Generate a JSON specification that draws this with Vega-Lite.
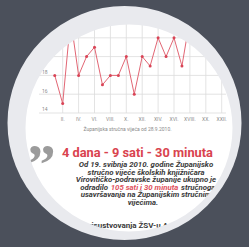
{
  "$schema": "https://vega.github.io/schema/vega-lite/v6.json",
  "width": 249,
  "height": 247,
  "padding": 0,
  "autosize": {"type": "none"},
  "background": "#ffffff",
  "config": {"view": {"stroke": null}, "font": "Roboto"},
  "datasets": {
    "series": [
      {"m": 1, "v": 18}, {"m": 2, "v": 15}, {"m": 3, "v": 24}, {"m": 4, "v": 18},
      {"m": 5, "v": 20}, {"m": 6, "v": 21}, {"m": 7, "v": 17}, {"m": 8, "v": 18},
      {"m": 9, "v": 18}, {"m": 10, "v": 20}, {"m": 11, "v": 16}, {"m": 12, "v": 20},
      {"m": 13, "v": 19}, {"m": 14, "v": 22}, {"m": 15, "v": 20}, {"m": 16, "v": 22},
      {"m": 17, "v": 19}, {"m": 18, "v": 24}
    ],
    "xticks": [
      {"m": 2, "label": "II."}, {"m": 4, "label": "IV."}, {"m": 6, "label": "VI."},
      {"m": 8, "label": "VIII."}, {"m": 10, "label": "X."}, {"m": 12, "label": "XII."},
      {"m": 14, "label": "XIV."}, {"m": 16, "label": "XVI."}, {"m": 18, "label": "XVIII."},
      {"m": 20, "label": "XX."}, {"m": 22, "label": "XXII."}
    ],
    "yticks": [
      {"v": 14, "label": "14"}, {"v": 16, "label": "16"}, {"v": 18, "label": "18"},
      {"v": 20, "label": "20"}, {"v": 22, "label": "22"}, {"v": 24, "label": "24"}
    ]
  },
  "layer": [
    {
      "data": {"name": "xticks"},
      "mark": {"type": "rule", "color": "#dcdcdc", "strokeWidth": 0.8},
      "encoding": {
        "x": {"field": "m", "type": "quantitative", "axis": null, "scale": {"domain": [-5.887, 25.434], "nice": false, "zero": false}},
        "y": {"datum": 14, "type": "quantitative", "axis": null, "scale": {"domain": [-0.255, 26.021], "nice": false, "zero": false}},
        "y2": {"datum": 25}
      }
    },
    {
      "data": {"name": "yticks"},
      "mark": {"type": "rule", "color": "#dcdcdc", "strokeWidth": 0.8},
      "encoding": {
        "y": {"field": "v", "type": "quantitative", "axis": null, "scale": {"domain": [-0.255, 26.021], "nice": false, "zero": false}},
        "x": {"datum": -0.98, "type": "quantitative", "axis": null, "scale": {"domain": [-5.887, 25.434], "nice": false, "zero": false}},
        "x2": {"datum": 22.54}
      }
    },
    {
      "data": {"name": "series"},
      "mark": {"type": "line", "color": "#e26674", "strokeWidth": 1},
      "encoding": {
        "x": {"field": "m", "type": "quantitative", "axis": null, "scale": {"domain": [-5.887, 25.434], "nice": false, "zero": false}},
        "y": {"field": "v", "type": "quantitative", "axis": null, "scale": {"domain": [-0.255, 26.021], "nice": false, "zero": false}}
      }
    },
    {
      "data": {"name": "series"},
      "mark": {"type": "point", "shape": "circle", "filled": true, "size": 9, "opacity": 1, "color": "#d94456"},
      "encoding": {
        "x": {"field": "m", "type": "quantitative", "axis": null, "scale": {"domain": [-5.887, 25.434], "nice": false, "zero": false}},
        "y": {"field": "v", "type": "quantitative", "axis": null, "scale": {"domain": [-0.255, 26.021], "nice": false, "zero": false}}
      }
    },
    {
      "data": {"name": "xticks"},
      "mark": {"type": "text", "fontSize": 5, "color": "#8a8a8a", "align": "center", "baseline": "alphabetic"},
      "encoding": {
        "x": {"field": "m", "type": "quantitative", "axis": null, "scale": {"domain": [-5.887, 25.434], "nice": false, "zero": false}},
        "y": {"datum": 13.096, "type": "quantitative", "axis": null, "scale": {"domain": [-0.255, 26.021], "nice": false, "zero": false}},
        "text": {"field": "label", "type": "nominal"}
      }
    },
    {
      "data": {"name": "yticks"},
      "mark": {"type": "text", "fontSize": 5, "color": "#8a8a8a", "align": "left", "baseline": "alphabetic", "dy": -1.5},
      "encoding": {
        "y": {"field": "v", "type": "quantitative", "axis": null, "scale": {"domain": [-0.255, 26.021], "nice": false, "zero": false}},
        "x": {"datum": -0.604, "type": "quantitative", "axis": null, "scale": {"domain": [-5.887, 25.434], "nice": false, "zero": false}},
        "text": {"field": "label", "type": "nominal"}
      }
    },
    {
      "data": {"values": [{"t": "Županijska stručna vijeća od 28.9.2010."}]},
      "mark": {"type": "text", "fontSize": 5, "color": "#8a8a8a", "align": "center", "baseline": "alphabetic"},
      "encoding": {
        "x": {"datum": 10.151, "type": "quantitative", "axis": null, "scale": {"domain": [-5.887, 25.434], "nice": false, "zero": false}},
        "y": {"datum": 12.085, "type": "quantitative", "axis": null, "scale": {"domain": [-0.255, 26.021], "nice": false, "zero": false}},
        "text": {"field": "t", "type": "nominal"}
      }
    },
    {
      "data": {"values": [{"t": "”"}]},
      "mark": {"type": "text", "font": "Liberation Serif", "fontWeight": "bold", "fontSize": 58, "color": "#9b9b9b", "align": "center", "baseline": "alphabetic"},
      "encoding": {
        "x": {"datum": -0.7, "type": "quantitative", "axis": null, "scale": {"domain": [-5.887, 25.434], "nice": false, "zero": false}},
        "y": {"datum": 6.4, "type": "quantitative", "axis": null, "scale": {"domain": [-0.255, 26.021], "nice": false, "zero": false}},
        "text": {"field": "t", "type": "nominal"}
      }
    },
    {
      "data": {"values": [{"t": "4 dana - 9 sati - 30 minuta"}]},
      "mark": {"type": "text", "fontWeight": "bold", "fontSize": 12.8, "color": "#d9434e", "align": "center", "baseline": "alphabetic"},
      "encoding": {
        "x": {"datum": 11.4, "type": "quantitative", "axis": null, "scale": {"domain": [-5.887, 25.434], "nice": false, "zero": false}},
        "y": {"datum": 9.27, "type": "quantitative", "axis": null, "scale": {"domain": [-0.255, 26.021], "nice": false, "zero": false}},
        "text": {"field": "t", "type": "nominal"}
      }
    },
    {
      "data": {"values": [{"t": "Od 19. svibnja 2010. godine Županijsko"}]},
      "mark": {"type": "text", "fontWeight": "bold", "fontStyle": "italic", "fontSize": 7.8, "color": "#3a3a3a", "align": "center", "baseline": "alphabetic"},
      "encoding": {
        "x": {"datum": 12.478, "type": "quantitative", "axis": null, "scale": {"domain": [-5.887, 25.434], "nice": false, "zero": false}},
        "y": {"datum": 8.28, "type": "quantitative", "axis": null, "scale": {"domain": [-0.255, 26.021], "nice": false, "zero": false}},
        "text": {"field": "t", "type": "nominal"}
      }
    },
    {
      "data": {"values": [{"t": "stručno vijeće školskih knjižničara"}]},
      "mark": {"type": "text", "fontWeight": "bold", "fontStyle": "italic", "fontSize": 7.8, "color": "#3a3a3a", "align": "center", "baseline": "alphabetic"},
      "encoding": {
        "x": {"datum": 12.478, "type": "quantitative", "axis": null, "scale": {"domain": [-5.887, 25.434], "nice": false, "zero": false}},
        "y": {"datum": 7.457, "type": "quantitative", "axis": null, "scale": {"domain": [-0.255, 26.021], "nice": false, "zero": false}},
        "text": {"field": "t", "type": "nominal"}
      }
    },
    {
      "data": {"values": [{"t": "Virovitičko-podravske županije ukupno je"}]},
      "mark": {"type": "text", "fontWeight": "bold", "fontStyle": "italic", "fontSize": 7.8, "color": "#3a3a3a", "align": "center", "baseline": "alphabetic"},
      "encoding": {
        "x": {"datum": 12.478, "type": "quantitative", "axis": null, "scale": {"domain": [-5.887, 25.434], "nice": false, "zero": false}},
        "y": {"datum": 6.628, "type": "quantitative", "axis": null, "scale": {"domain": [-0.255, 26.021], "nice": false, "zero": false}},
        "text": {"field": "t", "type": "nominal"}
      }
    },
    {
      "data": {"values": [{"t": "odradilo"}]},
      "mark": {"type": "text", "fontWeight": "bold", "fontStyle": "italic", "fontSize": 7.8, "color": "#3a3a3a", "align": "right", "baseline": "alphabetic"},
      "encoding": {
        "x": {"datum": 7.698, "type": "quantitative", "axis": null, "scale": {"domain": [-5.887, 25.434], "nice": false, "zero": false}},
        "y": {"datum": 5.809, "type": "quantitative", "axis": null, "scale": {"domain": [-0.255, 26.021], "nice": false, "zero": false}},
        "text": {"field": "t", "type": "nominal"}
      }
    },
    {
      "data": {"values": [{"t": "105 sati i 30 minuta"}]},
      "mark": {"type": "text", "fontWeight": "bold", "fontStyle": "italic", "fontSize": 7.8, "color": "#e0505c", "align": "center", "baseline": "alphabetic"},
      "encoding": {
        "x": {"datum": 12.289, "type": "quantitative", "axis": null, "scale": {"domain": [-5.887, 25.434], "nice": false, "zero": false}},
        "y": {"datum": 5.809, "type": "quantitative", "axis": null, "scale": {"domain": [-0.255, 26.021], "nice": false, "zero": false}},
        "text": {"field": "t", "type": "nominal"}
      }
    },
    {
      "data": {"values": [{"t": "stručnoga"}]},
      "mark": {"type": "text", "fontWeight": "bold", "fontStyle": "italic", "fontSize": 7.8, "color": "#3a3a3a", "align": "left", "baseline": "alphabetic"},
      "encoding": {
        "x": {"datum": 16.881, "type": "quantitative", "axis": null, "scale": {"domain": [-5.887, 25.434], "nice": false, "zero": false}},
        "y": {"datum": 5.809, "type": "quantitative", "axis": null, "scale": {"domain": [-0.255, 26.021], "nice": false, "zero": false}},
        "text": {"field": "t", "type": "nominal"}
      }
    },
    {
      "data": {"values": [{"t": "usavršavanja na Županijskim stručnim"}]},
      "mark": {"type": "text", "fontWeight": "bold", "fontStyle": "italic", "fontSize": 7.8, "color": "#3a3a3a", "align": "center", "baseline": "alphabetic"},
      "encoding": {
        "x": {"datum": 12.478, "type": "quantitative", "axis": null, "scale": {"domain": [-5.887, 25.434], "nice": false, "zero": false}},
        "y": {"datum": 5.011, "type": "quantitative", "axis": null, "scale": {"domain": [-0.255, 26.021], "nice": false, "zero": false}},
        "text": {"field": "t", "type": "nominal"}
      }
    },
    {
      "data": {"values": [{"t": "vijećima."}]},
      "mark": {"type": "text", "fontWeight": "bold", "fontStyle": "italic", "fontSize": 7.8, "color": "#3a3a3a", "align": "center", "baseline": "alphabetic"},
      "encoding": {
        "x": {"datum": 12.1, "type": "quantitative", "axis": null, "scale": {"domain": [-5.887, 25.434], "nice": false, "zero": false}},
        "y": {"datum": 4.181, "type": "quantitative", "axis": null, "scale": {"domain": [-0.255, 26.021], "nice": false, "zero": false}},
        "text": {"field": "t", "type": "nominal"}
      }
    },
    {
      "data": {"values": [{"t": "prisustvovanja ŽSV-u A"}]},
      "mark": {"type": "text", "fontWeight": "bold", "fontSize": 8, "color": "#3a3a3a", "align": "left", "baseline": "alphabetic"},
      "encoding": {
        "x": {"datum": 4.679, "type": "quantitative", "axis": null, "scale": {"domain": [-5.887, 25.434], "nice": false, "zero": false}},
        "y": {"datum": 1.734, "type": "quantitative", "axis": null, "scale": {"domain": [-0.255, 26.021], "nice": false, "zero": false}},
        "text": {"field": "t", "type": "nominal"}
      }
    },
    {
      "data": {"values": [{"part": "inner ring"}]},
      "mark": {"type": "point", "shape": "circle", "filled": false, "size": 51984, "strokeWidth": 21, "opacity": 1, "stroke": "#e9eaee"},
      "encoding": {
        "x": {"datum": 10.34, "type": "quantitative", "axis": null, "scale": {"domain": [-5.887, 25.434], "nice": false, "zero": false}},
        "y": {"datum": 12.4, "type": "quantitative", "axis": null, "scale": {"domain": [-0.255, 26.021], "nice": false, "zero": false}}
      }
    },
    {
      "data": {"values": [{"part": "outer frame"}]},
      "mark": {"type": "point", "shape": "circle", "filled": false, "size": 88209, "strokeWidth": 63, "opacity": 1, "stroke": "#4b505b"},
      "encoding": {
        "x": {"datum": 9.774, "type": "quantitative", "axis": null, "scale": {"domain": [-5.887, 25.434], "nice": false, "zero": false}},
        "y": {"datum": 12.936, "type": "quantitative", "axis": null, "scale": {"domain": [-0.255, 26.021], "nice": false, "zero": false}}
      }
    }
  ]
}
